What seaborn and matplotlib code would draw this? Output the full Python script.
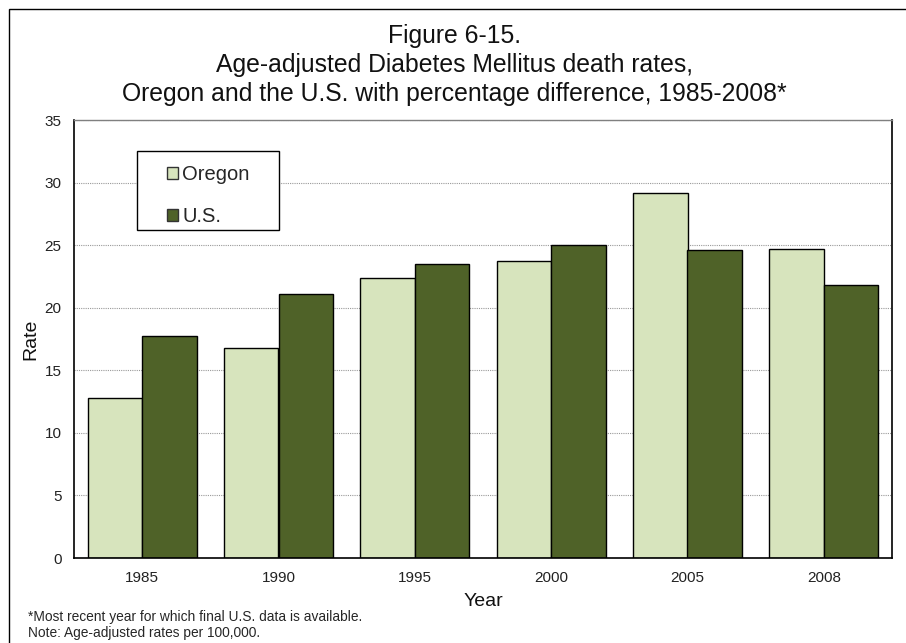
import matplotlib
matplotlib.use("Agg")
import matplotlib.pyplot as plt
import seaborn as sns
import pandas as pd
from matplotlib.patches import Rectangle

years = ["1985", "1990", "1995", "2000", "2005", "2008"]
oregon = [12.8, 16.8, 22.4, 23.7, 29.2, 24.7]
us = [17.7, 21.1, 23.5, 25.0, 24.6, 21.8]
series_names = ["Oregon", "U.S."]
colors = ["#D7E4BD", "#4F6228"]

df = pd.DataFrame({
    "Year": years * 2,
    "Rate": oregon + us,
    "Series": [series_names[0]] * len(years) + [series_names[1]] * len(years),
})

sns.set_theme(style="white")
plt.rcParams["font.family"] = ["Liberation Sans", "DejaVu Sans"]

fig = plt.figure(figsize=(9.06, 6.43), dpi=100)
ax = fig.add_axes([74 / 906, 1 - 558 / 643, (892 - 74) / 906, (558 - 120) / 643])

sns.barplot(data=df, x="Year", y="Rate", hue="Series", palette=colors,
            edgecolor="black", linewidth=1.0, width=0.8, ax=ax, saturation=1)

ax.set_ylim(0, 35)
ax.set_yticks(range(0, 36, 5))
ax.yaxis.grid(True, linestyle=(0, (1, 1)), color="#999999", linewidth=0.8)
ax.set_axisbelow(True)
for s in ["left", "bottom", "right"]:
    ax.spines[s].set_color("black")
    ax.spines[s].set_linewidth(1.2)
ax.spines["top"].set_color("#808080")
ax.spines["top"].set_linewidth(1.0)
ax.tick_params(axis="both", labelsize=11, colors="#222222", length=0)
ax.tick_params(axis="y", pad=9)
ax.tick_params(axis="x", pad=9)
ax.set_xlabel("Year", fontsize=14, labelpad=6, color="#111111")
ax.set_ylabel("Rate", fontsize=14, labelpad=4, color="#111111")

# legend: frameless, with a separate box drawn in axes coordinates
leg = ax.legend(loc="upper left", bbox_to_anchor=((167 - 74) / 818, 1 - 45 / 438),
                fontsize=14.5, frameon=False,
                handlelength=0.55, handleheight=0.55, handletextpad=0.2,
                labelspacing=1.15, borderpad=0, borderaxespad=0)
for h in leg.legend_handles:
    h.set_edgecolor("#333333")
ax.add_patch(Rectangle(((137 - 74) / 818, 1 - (230 - 120) / 438),
                       (279 - 137) / 818, (230 - 151) / 438,
                       transform=ax.transAxes, fill=True, facecolor="white",
                       edgecolor="black", linewidth=1.0, zorder=4))
leg.set_zorder(5)

title_kw = dict(ha="center", va="baseline", fontsize=17.8, color="#111111")
fig.text(0.502, 1 - 43 / 643, "Figure 6-15.", **title_kw)
fig.text(0.502, 1 - 72 / 643, "Age-adjusted Diabetes Mellitus death rates,", **title_kw)
fig.text(0.502, 1 - 101 / 643, "Oregon and the U.S. with percentage difference, 1985-2008*", **title_kw)

fig.text(28 / 906, 1 - 617 / 643, "*Most recent year for which final U.S. data is available.",
         ha="left", va="center", fontsize=9.9)
fig.text(28 / 906, 1 - 633 / 643, "Note: Age-adjusted rates per 100,000.",
         ha="left", va="center", fontsize=9.9)

fig.patches.append(Rectangle((9 / 906, -0.1), 1.2, 1 - 9 / 643 + 0.1,
                             transform=fig.transFigure, fill=False,
                             edgecolor="black", linewidth=1.0))

fig.savefig("out.png", dpi=100)
